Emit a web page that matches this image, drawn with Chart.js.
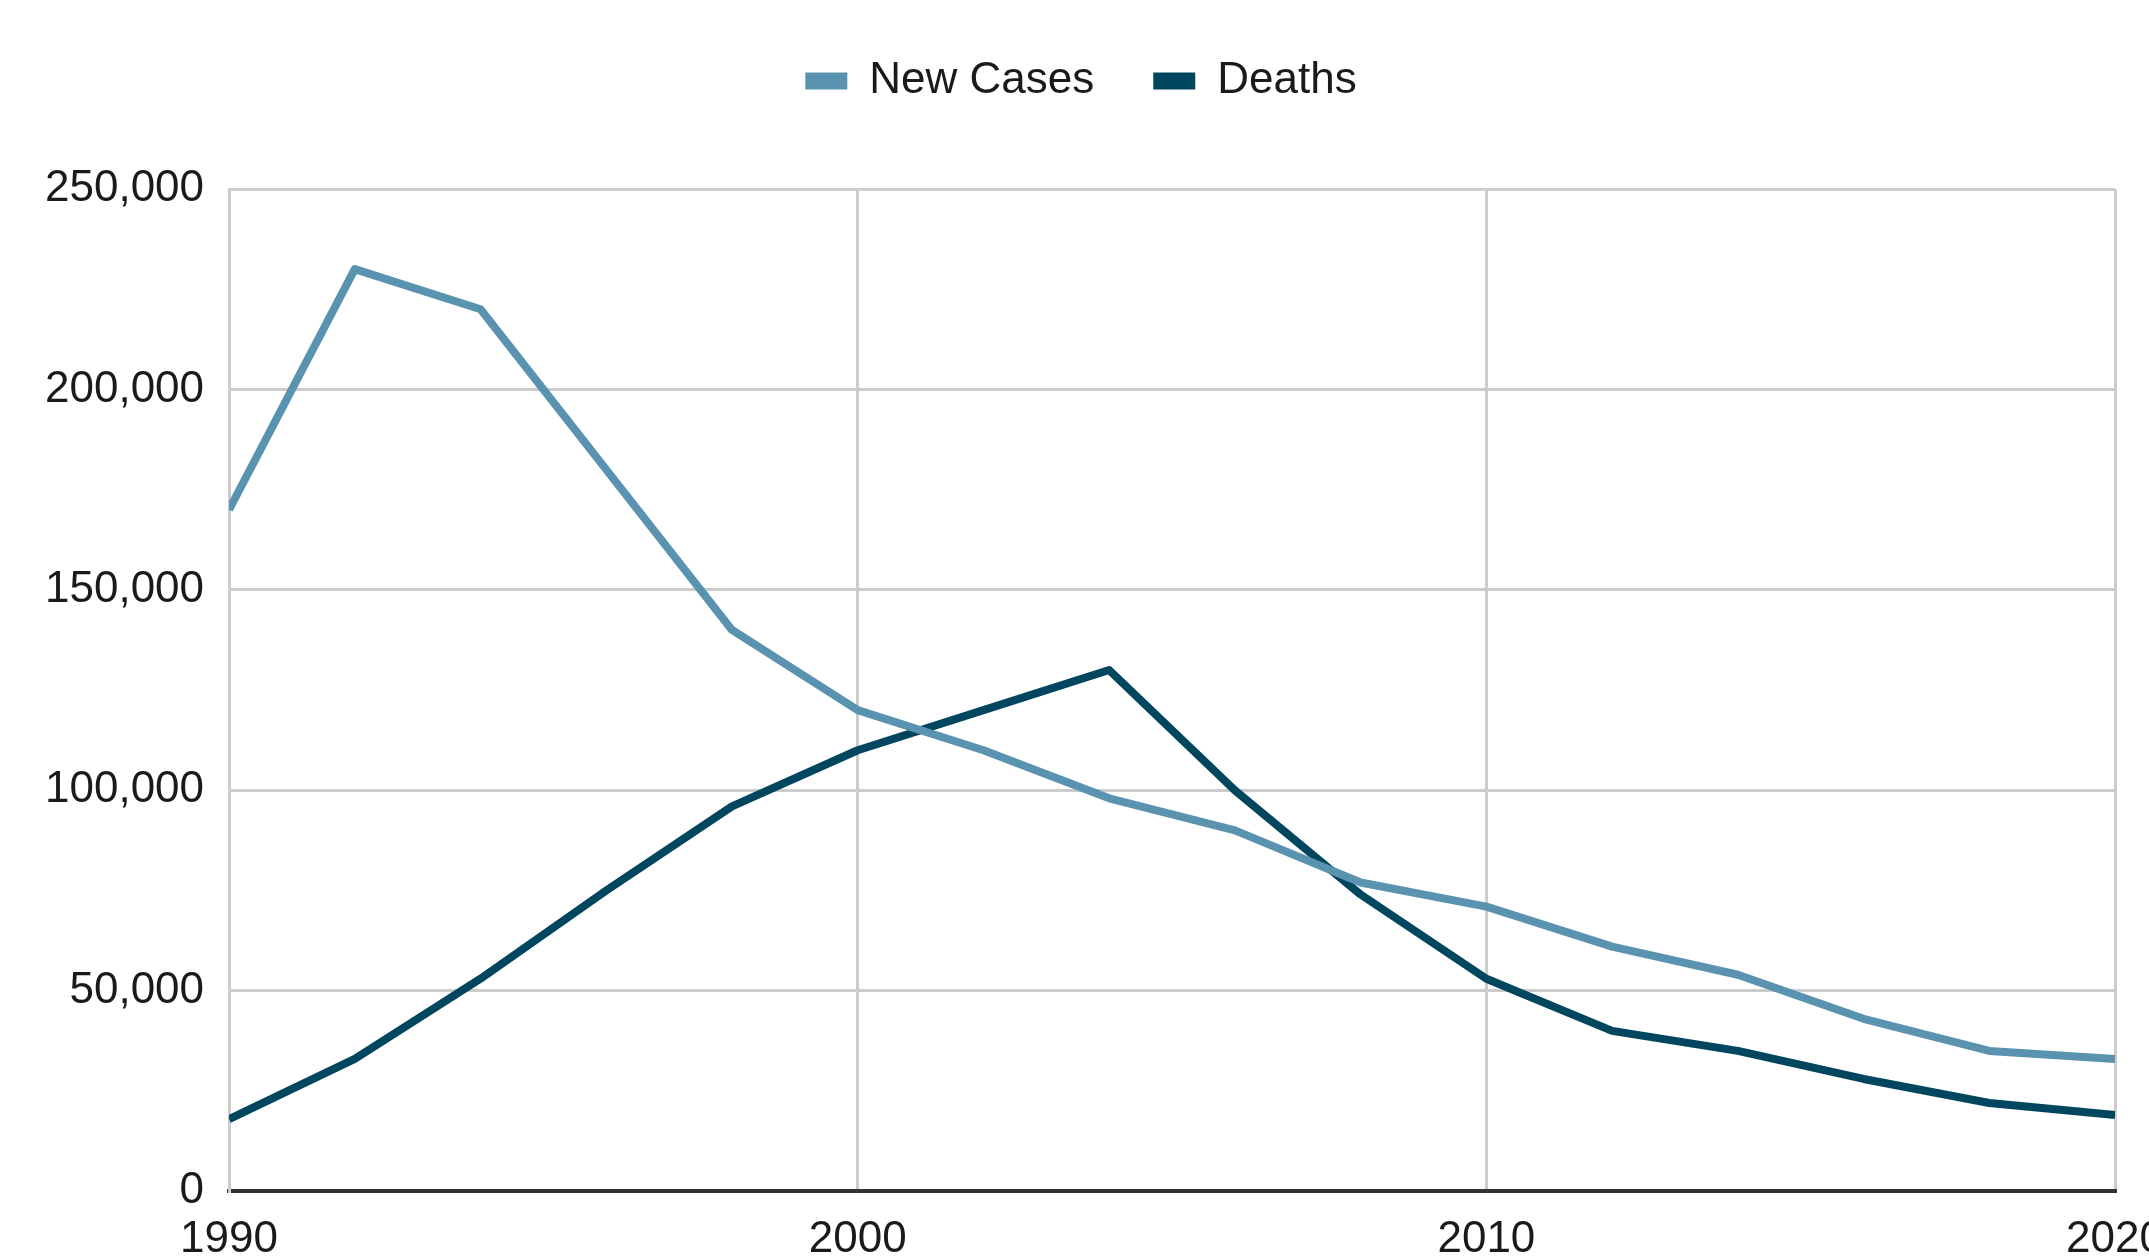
<!DOCTYPE html>
<html>
<head>
<meta charset="utf-8">
<title>New Cases and Deaths</title>
<script src="https://cdn.jsdelivr.net/npm/chart.js@4.4.1/dist/chart.umd.min.js"></script>
<style>
    html, body { margin: 0; padding: 0; background: #fff; overflow: hidden; }
    #wrap { width: 2186px; height: 1288px; }
</style>
</head>
<body>
<div id="wrap"><canvas id="line-chart"></canvas></div>
<script>
// Years sampled every two years
const years = [1990, 1992, 1994, 1996, 1998, 2000, 2002, 2004, 2006, 2008, 2010, 2012, 2014, 2016, 2018, 2020];
const newCases = [170000, 230000, 220000, 180000, 140000, 120000, 110000, 98000, 90000, 77000, 71000, 61000, 54000, 43000, 35000, 33000];
const deaths = [18000, 33000, 53000, 75000, 96000, 110000, 120000, 130000, 100000, 74000, 53000, 40000, 35000, 28000, 22000, 19000];
const xTicks = [1990, 2000, 2010, 2020];
const yTicks = [0, 50000, 100000, 150000, 200000, 250000];

const toPoints = (values) => values.map((v, i) => ({ x: years[i], y: v }));

Chart.defaults.font.family = "'Liberation Sans', Arial, sans-serif";
Chart.defaults.font.size = 44;
Chart.defaults.color = "#1a1a1a";

// extra room under the legend, and nudge it a bit left
const legendGap = {
    id: "legendGap",
    beforeInit(chart) {
        const fit = chart.legend.fit;
        chart.legend.fit = function () {
            fit.bind(chart.legend)();
            this.height += 76;
        };
    },
    afterLayout(chart) {
        chart.legend.left -= 22;
        chart.legend.right -= 22;
    }
};

new Chart(document.getElementById("line-chart"), {
    type: "line",
    data: {
        datasets: [
            {
                label: "New Cases",
                data: toPoints(newCases),
                borderColor: "#5a93b0",
                backgroundColor: "#5a93b0",
                borderWidth: 8,
                pointRadius: 0,
                borderJoinStyle: "round"
            },
            {
                label: "Deaths",
                data: toPoints(deaths),
                borderColor: "#00465f",
                backgroundColor: "#00465f",
                borderWidth: 8,
                pointRadius: 0,
                borderJoinStyle: "round"
            }
        ]
    },
    options: {
        responsive: true,
        maintainAspectRatio: false,
        animation: false,
        layout: { padding: { left: 20, top: 0, right: 0, bottom: 0 } },
        plugins: {
            legend: {
                position: "top",
                labels: {
                    boxWidth: 42,
                    boxHeight: 17,
                    padding: 59,
                    generateLabels: (chart) => {
                        const items = Chart.defaults.plugins.legend.labels.generateLabels(chart);
                        items.forEach(item => { item.lineWidth = 0; });
                        return items;
                    }
                }
            },
            tooltip: { enabled: false }
        },
        scales: {
            x: {
                type: "linear",
                min: 1990,
                max: 2020,
                afterBuildTicks: (axis) => { axis.ticks = xTicks.map(v => ({ value: v })); },
                ticks: { padding: 22, callback: (v) => String(v) },
                grid: { color: "#cccccc", lineWidth: 3, drawTicks: false },
                border: { color: "#333", width: 4 }
            },
            y: {
                min: 0,
                max: 250000,
                afterBuildTicks: (axis) => { axis.ticks = yTicks.map(v => ({ value: v })); },
                ticks: { padding: 25, callback: (v) => v.toLocaleString("en-US") },
                grid: { color: "#cccccc", lineWidth: 3, drawTicks: false },
                border: { color: "#cccccc", width: 3 }
            }
        }
    },
    plugins: [legendGap]
});
</script>
</body>
</html>
